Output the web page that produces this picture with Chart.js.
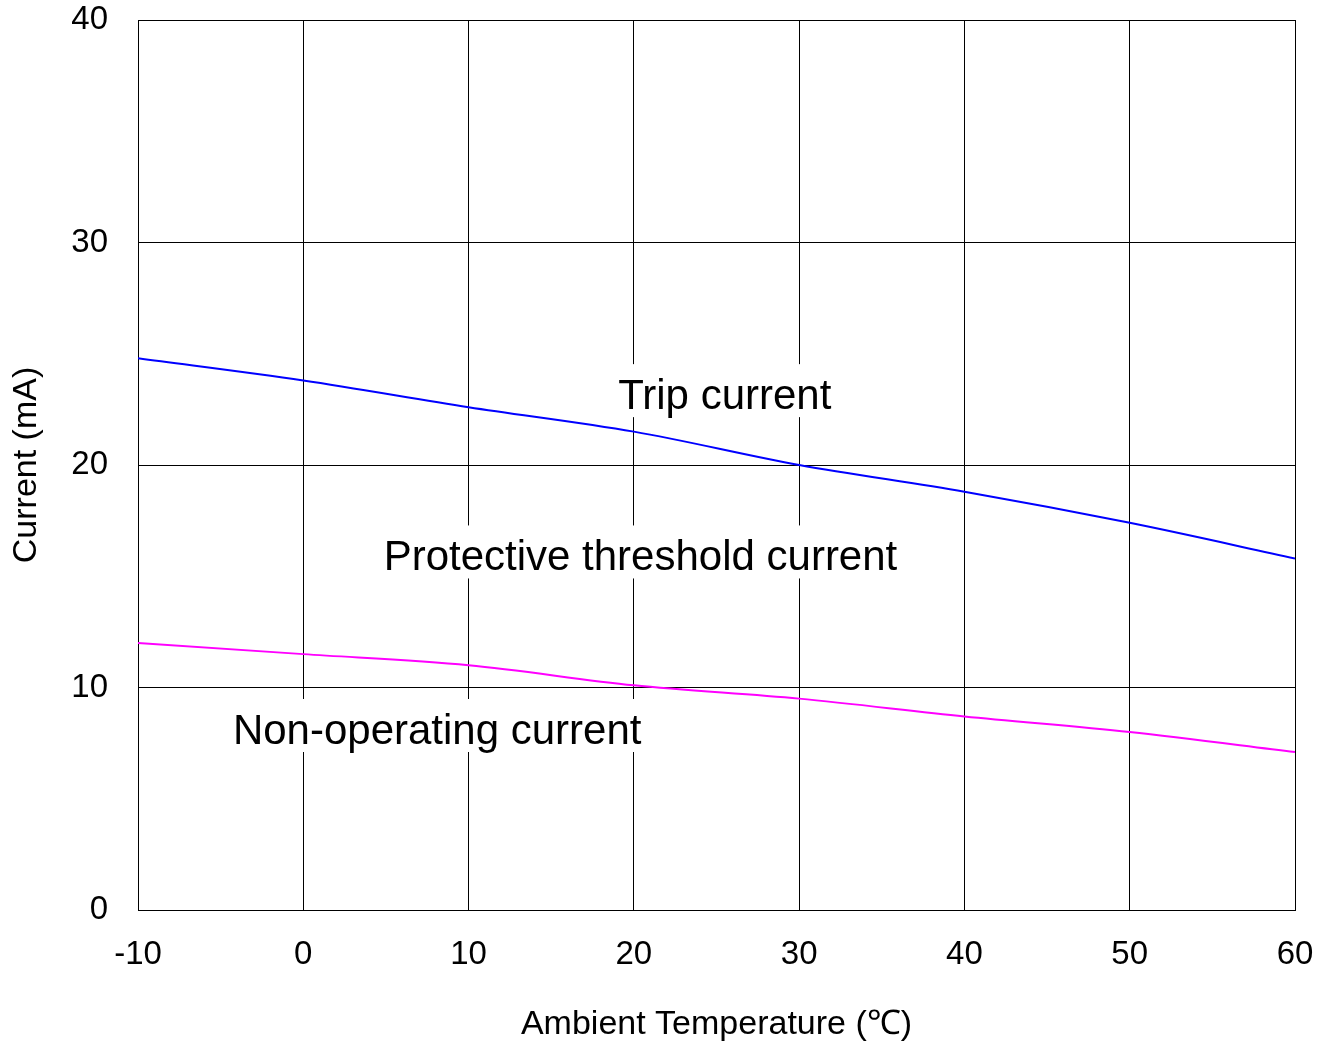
<!DOCTYPE html>
<html>
<head>
<meta charset="utf-8">
<script src="https://cdn.jsdelivr.net/npm/chart.js@4.4.0/dist/chart.umd.min.js"></script>
<style>
  html, body { margin: 0; padding: 0; background: #fff; }
  #wrap { width: 1330px; height: 1045px; }
</style>
</head>
<body>
<div id="wrap"><canvas id="myChart" width="1330" height="1045"></canvas></div>
<script>
// temperatures (℃)
var temps = [-10, 0, 10, 20, 30, 40, 50, 60];
// trip current (mA)
var tripCurrent = [24.8, 23.8, 22.6, 21.5, 20.0, 18.8, 17.4, 15.8];
// non-operating current (mA)
var nonOpCurrent = [12.0, 11.5, 11.0, 10.1, 9.5, 8.7, 8.0, 7.1];

// text labels placed in data space
var notes = [
  { text: 'Trip current', x: 25.5, y: 23.05 },
  { text: 'Protective threshold current', x: 20.4, y: 15.8 },
  { text: 'Non-operating current', x: 8.1, y: 8.0 }
];

var FONT = '"Liberation Sans", Arial, sans-serif';

function toPoints(ys) {
  return temps.map(function (t, i) { return { x: t, y: ys[i] }; });
}

var notesPlugin = {
  id: 'notes',
  afterDatasetsDraw: function (chart) {
    var ctx = chart.ctx;
    var xs = chart.scales.x, ys = chart.scales.y;
    ctx.save();
    ctx.font = '42px ' + FONT;
    ctx.textAlign = 'center';
    ctx.textBaseline = 'middle';
    notes.forEach(function (n) {
      var px = xs.getPixelForValue(n.x);
      var py = ys.getPixelForValue(n.y);
      var w = ctx.measureText(n.text).width + 16;
      ctx.fillStyle = '#fff';
      ctx.fillRect(px - w / 2, py - 33, w, 53);
      ctx.fillStyle = '#000';
      ctx.fillText(n.text, px, py);
    });
    ctx.restore();
  }
};

document.addEventListener('DOMContentLoaded', function () {
  var ctx = document.getElementById('myChart').getContext('2d');
  var myChart = new Chart(ctx, {
    type: 'line',
    data: {
      datasets: [{
        label: 'Trip current',
        data: toPoints(tripCurrent),
        borderColor: '#0000ff',
        borderWidth: 2,
        pointRadius: 0,
        cubicInterpolationMode: 'monotone',
        fill: false
      }, {
        label: 'Non-operating current',
        data: toPoints(nonOpCurrent),
        borderColor: '#ff00ff',
        borderWidth: 2,
        pointRadius: 0,
        cubicInterpolationMode: 'monotone',
        fill: false
      }]
    },
    options: {
      responsive: false,
      animation: false,
      devicePixelRatio: 1,
      layout: { padding: { top: 20, right: 35, left: 0, bottom: 0 } },
      plugins: {
        legend: { display: false },
        tooltip: { enabled: false }
      },
      scales: {
        x: {
          type: 'linear',
          min: -10,
          max: 60,
          ticks: { stepSize: 10, color: '#000', font: { family: FONT, size: 33 }, padding: 25, maxRotation: 0 },
          grid: { color: '#000', lineWidth: 1, drawTicks: false },
          border: { color: '#000', width: 1 },
          title: { display: true, text: 'Ambient Temperature (℃)', color: '#000', font: { family: FONT, size: 34 }, padding: { top: 6, bottom: 0 } },
          afterFit: function (s) { s.height = 135; s.paddingLeft = 0; s.paddingRight = 0; }
        },
        y: {
          min: 0,
          max: 40,
          ticks: { stepSize: 10, color: '#000', font: { family: FONT, size: 33 }, padding: 30 },
          grid: { color: '#000', lineWidth: 1, drawTicks: false },
          border: { color: '#000', width: 1 },
          title: { display: true, text: 'Current (mA)', color: '#000', font: { family: FONT, size: 34 }, padding: { top: 6, bottom: 0 } },
          afterFit: function (s) { s.width = 138; s.paddingTop = 0; s.paddingBottom = 0; }
        }
      }
    },
    plugins: [notesPlugin]
  });
});
</script>
</body>
</html>
